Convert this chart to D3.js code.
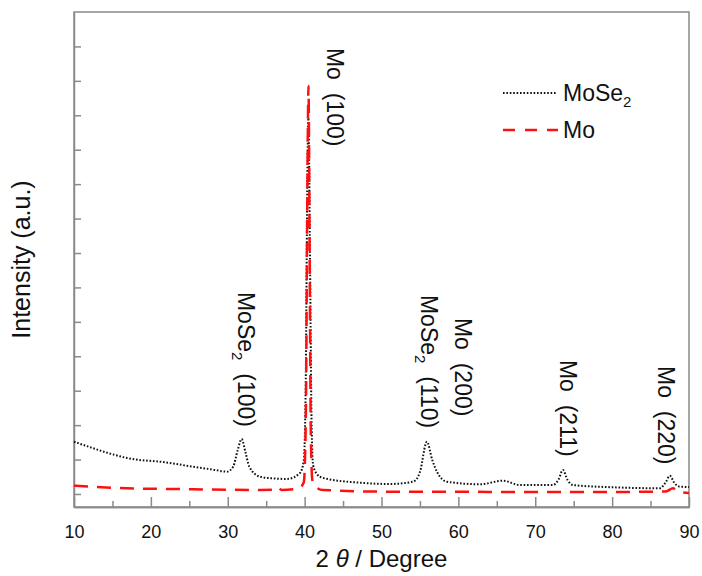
<!DOCTYPE html>
<html>
<head>
<meta charset="utf-8">
<script src="https://cdn.jsdelivr.net/npm/d3@7"></script>
<style>
  body { margin: 0; background: #fff; }
  svg text { font-family: "Liberation Sans", Arial, sans-serif; fill: #111; }
  .axis path, .axis line { stroke: #8a8a8a; stroke-width: 1.5; }
</style>
</head>
<body>
<div id="chart"></div>
<script>
// 2theta (degree) and intensity (a.u.)
const mose2Theta = [10, 12, 14, 16.9, 18, 21.2, 25.5, 28, 29.9, 30.7, 31.3, 31.8, 32.3, 32.8, 34.2, 36, 37.7, 39.4, 39.9, 40.15, 40.35, 40.5, 40.7, 40.9, 41.1, 41.6, 42.4, 47.2, 51.1, 54.1, 55, 55.9, 56.6, 57.3, 58.5, 62.8, 65.8, 68, 72.3, 73, 73.6, 74.2, 74.9, 80.1, 86.2, 87, 87.5, 88.1, 88.8, 90]
const mose2Int = [1519, 1365, 1220, 1046, 1002, 938, 793, 712, 648, 793, 1278, 1598, 1220, 793, 503, 450, 436, 610, 988, 3312, 9122, 10923, 6798, 2150, 842, 581, 465, 328, 290, 357, 639, 1519, 988, 610, 357, 282, 386, 261, 261, 407, 697, 407, 261, 195, 166, 349, 532, 320, 212, 203]

const moTheta = [10, 16.9, 25.5, 34.2, 36, 36.5, 37, 38.5, 39.4, 39.9, 40.15, 40.35, 40.5, 40.65, 40.8, 41, 41.3, 42.4, 51.1, 60, 70, 80, 87, 87.9, 88.6, 90]
const moInt = [241, 166, 137, 116, 122, 195, 116, 137, 189, 349, 2150, 8541, 11852, 7088, 1859, 407, 232, 116, 67, 64, 58, 58, 73, 166, 73, 29]

const xMajor = [10, 20, 30, 40, 50, 60, 70, 80, 90]
const xMinor = [15, 25, 35, 45, 55, 65, 75, 85]
const yTicks = d3.range(0, 14000, 1000)

// peak labels: [name, sub, hkl, 2theta of label baseline, y value of label start]
const peakLabels = [
    ['MoSe', '2', '(100)', 31.3, 5868],
    ['Mo', '', '(100)', 42.86, 12956],
    ['MoSe', '2', '(110)', 55.08, 5781],
    ['Mo', '', '(200)', 59.54, 5113],
    ['Mo', '', '(211)', 73.2, 3893],
    ['Mo', '', '(220)', 85.95, 3718]
]

const width = 702, height = 576
const margin = { top: 12, left: 74, bottom: 69, right: 13 }

const svg = d3.select('#chart').append('svg')
    .attr('width', width)
    .attr('height', height)

const x = d3.scaleLinear().domain([10, 90]).range([margin.left, width - margin.right])
const y = d3.scaleLinear().domain([-378, 14000]).range([height - margin.bottom, margin.top])

// frame
svg.append('rect')
    .attr('x', margin.left).attr('y', margin.top)
    .attr('width', x(90) - x(10)).attr('height', y(-378) - y(14000))
    .attr('fill', 'none').attr('stroke', '#8a8a8a').attr('stroke-width', 1.5)

svg.append('g')
    .attr('class', 'axis')
    .attr('transform', `translate(0, ${y(-378)})`)
    .call(d3.axisBottom(x).tickValues(xMajor).tickSizeInner(-10).tickSizeOuter(0).tickPadding(18))
    .call(g => g.selectAll('text').attr('font-size', 18).style('font-family', '"Liberation Sans", Arial, sans-serif'))

svg.append('g')
    .attr('class', 'axis')
    .attr('transform', `translate(0, ${y(-378)})`)
    .call(d3.axisBottom(x).tickValues(xMinor).tickSizeInner(-6).tickSizeOuter(0).tickFormat(''))

svg.append('g')
    .attr('class', 'axis')
    .attr('transform', `translate(${margin.left}, 0)`)
    .call(d3.axisLeft(y).tickValues(yTicks).tickSizeInner(-7).tickSizeOuter(0).tickFormat(''))

const line = d3.line()
    .x(d => x(d[0]))
    .y(d => y(d[1]))
    .curve(d3.curveMonotoneX)

svg.append('path')
    .datum(d3.zip(mose2Theta, mose2Int))
    .attr('d', line)
    .attr('fill', 'none')
    .attr('stroke', '#111')
    .attr('stroke-width', 2)
    .attr('stroke-dasharray', '1.6,1.8')

svg.append('path')
    .datum(d3.zip(moTheta, moInt))
    .attr('d', line)
    .attr('fill', 'none')
    .attr('stroke', '#ff1010')
    .attr('stroke-width', 2.5)
    .attr('stroke-dasharray', '14,9')

// rotated peak labels
peakLabels.forEach(p => {
    const t = svg.append('text')
        .attr('transform', `translate(${x(p[3])}, ${y(p[4])}) rotate(90)`)
        .attr('font-size', 23)
        .style('white-space', 'pre')
    t.append('tspan').text(p[0])
    if (p[1]) {
        t.append('tspan').attr('font-size', 15).attr('dy', 6).text(p[1])
        t.append('tspan').attr('dy', -6).text('  ' + p[2])
    } else {
        t.append('tspan').text('  ' + p[2])
    }
})

// legend
const legend = svg.append('g')
legend.append('line')
    .attr('x1', 503).attr('x2', 557).attr('y1', 93).attr('y2', 93)
    .attr('stroke', '#111').attr('stroke-width', 2).attr('stroke-dasharray', '1.6,1.8')
const lt = legend.append('text').attr('x', 563).attr('y', 101).attr('font-size', 23)
lt.append('tspan').text('MoSe')
lt.append('tspan').attr('font-size', 15).attr('dy', 6).text('2')
legend.append('line')
    .attr('x1', 503).attr('x2', 558).attr('y1', 130).attr('y2', 130)
    .attr('stroke', '#ff1010').attr('stroke-width', 2.5).attr('stroke-dasharray', '12,10')
legend.append('text').attr('x', 563).attr('y', 138).attr('font-size', 23).text('Mo')

// axis titles
const xt = svg.append('text')
    .attr('x', (x(10) + x(90)) / 2)
    .attr('y', 567)
    .attr('text-anchor', 'middle')
    .attr('font-size', 24)
    .style('white-space', 'pre')
xt.append('tspan').text('2 ')
xt.append('tspan').attr('font-style', 'italic').text('θ')
xt.append('tspan').text(' / Degree')

svg.append('text')
    .attr('transform', `translate(30, ${(y(-378) + y(14000)) / 2}) rotate(-90)`)
    .attr('text-anchor', 'middle')
    .attr('font-size', 25)
    .text('Intensity (a.u.)')
</script>
</body>
</html>
